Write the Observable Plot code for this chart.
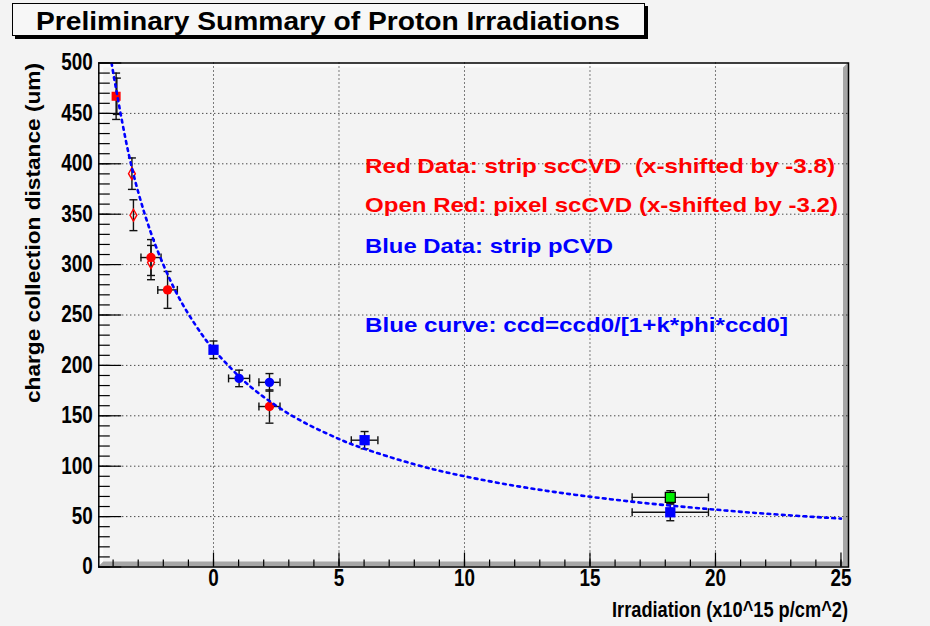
<!DOCTYPE html>
<html><head><meta charset="utf-8">
<script src="https://cdn.jsdelivr.net/npm/d3@7"></script>
<script src="https://cdn.jsdelivr.net/npm/@observablehq/plot@0.6"></script>
<style>
html,body{margin:0;padding:0;background:#f3f3f3;}
#chart{position:relative;width:930px;height:626px;overflow:hidden;}
</style></head>
<body><div id="chart"></div>
<script>
// ---------- data ----------
// Red filled: strip scCVD (x-shifted by -3.8)
const redStripX  = [-3.88, -2.49, -1.83, 2.23];
const redStripY  = [467, 307, 274.9, 159.2];
const redStripEX = [0, 0.40, 0.39, 0.42];
const redStripEY = [23, 17.8, 18.3, 16.5];
const redStripShape = ["square", "circle", "circle", "circle"];
// Open red: pixel scCVD (x-shifted by -3.2)
const redPixelX  = [-3.25, -3.19, -2.49];
const redPixelY  = [390.2, 349, 302];
const redPixelEX = [0, 0, 0];
const redPixelEY = [15.6, 15.3, 17];
// extra (second) error bar under the first red square
const extraX  = [-3.85];
const extraY  = [467];
const extraEY = [18];
// Blue: strip pCVD
const blueSqX  = [0, 6.02, 18.2];
const blueSqY  = [215.5, 125.8, 54.3];
const blueSqEX = [0, 0.53, 1.52];
const blueSqEY = [8.7, 8.6, 8.4];
const blueCircX  = [1.02, 2.23];
const blueCircY  = [187.1, 183.2];
const blueCircEX = [0.42, 0.42];
const blueCircEY = [8.2, 8.7];
// Green point
const greenX  = [18.2];
const greenY  = [69.1];
const greenEX = [1.52];
const greenEY = [6.6];
// Blue fit curve
const curveX = [-4.1, -4, -3.5, -3, -2.5, -2, -1.5, -1, -0.5, 0, 1, 2, 3, 4, 5, 6, 8, 10, 12, 14, 16, 18, 20, 22, 25];
const curveY = [507, 491, 424, 372, 332, 300, 273, 251, 232, 216, 189.5, 168.7, 152, 138.5, 127, 117.4, 101.9, 90, 80.6, 73, 66.7, 61.4, 56.9, 52.9, 48];
// axes
const xMajor = [0, 5, 10, 15, 20, 25];
const xTickLabels = ["0", "5", "10", "15", "20", "25"];
const xMinor = d3.range(-4, 26, 1);
const xGrid = [0, 5, 10, 15, 20];
const yMajor = [0, 50, 100, 150, 200, 250, 300, 350, 400, 450, 500];
const yTickLabels = ["0", "50", "100", "150", "200", "250", "300", "350", "400", "450", "500"];
const yMinor = d3.range(0, 501, 10);
const yGrid = [50, 100, 150, 200, 250, 300, 350, 400, 450];
const titleText = "Preliminary Summary of Proton Irradiations";
const xTitle = "Irradiation (x10^15 p/cm^2)";
const yTitle = "charge collection distance (um)";
const legendLines = [
  {text: "Red Data: strip scCVD  (x-shifted by -3.8)", color: "#ff0000"},
  {text: "Open Red: pixel scCVD (x-shifted by -3.2)", color: "#ff0000"},
  {text: "Blue Data: strip pCVD", color: "#0000ff"},
  {text: "Blue curve: ccd=ccd0/[1+k*phi*ccd0]", color: "#0000ff"}
];

// ---------- build ----------
const W = 930, H = 626;
const mL = 98.3, mR = 82, mT = 62.5, mB = 59.5;
const fw = W - mL - mR, fh = H - mT - mB;
const FONT = "'Liberation Sans', Arial, Helvetica, sans-serif";

const rows = (xs, ys, exs, eys) => xs.map((x, i) => ({x, y: ys[i], ex: exs ? exs[i] : 0, ey: eys ? eys[i] : 0}));
const redStrip = rows(redStripX, redStripY, redStripEX, redStripEY).map((d, i) => ({...d, shape: redStripShape[i]}));
const redPixel = rows(redPixelX, redPixelY, redPixelEX, redPixelEY);
const extra = rows(extraX, extraY, null, extraEY);
const blueSq = rows(blueSqX, blueSqY, blueSqEX, blueSqEY);
const blueCirc = rows(blueCircX, blueCircY, blueCircEX, blueCircEY);
const green = rows(greenX, greenY, greenEX, greenEY);
const curve = curveX.map((x, i) => ({x, y: curveY[i]}));

const allErr = [...redStrip, ...redPixel, ...extra, ...blueSq, ...blueCirc, ...green];
const vErr = allErr.filter(d => d.ey > 0);
const hErr = allErr.filter(d => d.ex > 0);
const capsV = vErr.flatMap(d => [{x: d.x, y: d.y - d.ey}, {x: d.x, y: d.y + d.ey}]);
const capsH = hErr.flatMap(d => [{x: d.x - d.ex, y: d.y}, {x: d.x + d.ex, y: d.y}]);

const hline = {draw(c, s) { const r = Math.sqrt(s / Math.PI); c.moveTo(-r, 0); c.lineTo(r, 0); }};
const vline = {draw(c, s) { const r = Math.sqrt(s / Math.PI); c.moveTo(0, -r); c.lineTo(0, r); }};

function bevel(index, scales, values, dim) {
  const l = dim.marginLeft, r = dim.width - dim.marginRight, t = dim.marginTop, b = dim.height - dim.marginBottom, k = 5;
  const g = d3.create("svg:g");
  g.append("polygon").attr("points", `${l},${t} ${r},${t} ${r-k},${t+k} ${l+k},${t+k} ${l+k},${b-k} ${l},${b}`).attr("fill", "#fcfcfc");
  g.append("polygon").attr("points", `${r},${t} ${r},${b} ${l},${b} ${l+k},${b-k} ${r-k},${b-k} ${r-k},${t+k}`).attr("fill", "#a6a6a6");
  return g.node();
}

const plot = Plot.plot({
  width: W, height: H,
  marginLeft: mL, marginRight: mR, marginTop: mT, marginBottom: mB,
  x: {domain: [-4.57, 25.3], axis: null},
  y: {domain: [0, 500], axis: null},
  style: {background: "transparent", overflow: "visible", fontFamily: FONT},
  marks: [
    bevel,
    Plot.ruleX(xGrid, {x: d => d, stroke: "#000", strokeWidth: 1, strokeDasharray: "1,3"}),
    Plot.ruleY(yGrid, {y: d => d, stroke: "#000", strokeWidth: 1, strokeDasharray: "1,3"}),
    Plot.tickX(xMinor, {x: d => d, insetTop: fh - 7, stroke: "#000", strokeWidth: 1.2}),
    Plot.tickX(xMajor, {x: d => d, insetTop: fh - 14, stroke: "#000", strokeWidth: 1.2}),
    Plot.tickY(yMinor, {y: d => d, insetRight: fw - 11.5, stroke: "#000", strokeWidth: 1.2}),
    Plot.tickY(yMajor, {y: d => d, insetRight: fw - 23, stroke: "#000", strokeWidth: 1.2}),
    Plot.text(xMajor, {x: d => d, text: (d, i) => xTickLabels[i], frameAnchor: "bottom", lineAnchor: "top", dy: 3, fontSize: 23, fontWeight: "bold", fill: "#000"}),
    Plot.text(yMajor, {y: d => d, text: (d, i) => yTickLabels[i], frameAnchor: "left", textAnchor: "end", dx: -6, fontSize: 23, fontWeight: "bold", fill: "#000"}),
    // error bars
    Plot.ruleX(vErr, {x: "x", y1: d => d.y - d.ey, y2: d => d.y + d.ey, stroke: "#111", strokeWidth: 1.4}),
    Plot.ruleY(hErr, {y: "y", x1: d => d.x - d.ex, x2: d => d.x + d.ex, stroke: "#111", strokeWidth: 1.4}),
    Plot.dot(capsV, {x: "x", y: "y", symbol: hline, r: 4, stroke: "#111", strokeWidth: 1.4, fill: "none"}),
    Plot.dot(capsH, {x: "x", y: "y", symbol: vline, r: 4, stroke: "#111", strokeWidth: 1.4, fill: "none"}),
    // markers
    Plot.dot(redPixel, {x: "x", y: "y", symbol: "diamond", r: 3.6, stroke: "#ff0000", strokeWidth: 1.4, fill: "none"}),
    Plot.dot(redStrip.filter(d => d.shape === "square"), {x: "x", y: "y", symbol: "square", r: 5.1, fill: "#ff0000", stroke: "none"}),
    Plot.dot(redStrip.filter(d => d.shape === "circle"), {x: "x", y: "y", symbol: "circle", r: 4.7, fill: "#ff0000", stroke: "none"}),
    Plot.dot(blueSq, {x: "x", y: "y", symbol: "square", r: 5.8, fill: "#0000ff", stroke: "none"}),
    Plot.dot(blueCirc, {x: "x", y: "y", symbol: "circle", r: 4.7, fill: "#0000ff", stroke: "none"}),
    Plot.dot(green, {x: "x", y: "y", symbol: "square", r: 5.6, fill: "#00ee00", stroke: "#000", strokeWidth: 1.3}),
    // fit curve
    Plot.line(curve, {x: "x", y: "y", curve: "natural", stroke: "#0000ff", strokeWidth: 2.6, strokeDasharray: "2.8,4.4", clip: true}),
    Plot.frame({stroke: "#000", strokeWidth: 1.5})
  ]
});
document.getElementById("chart").appendChild(plot);

const svg = d3.select(plot);
// condense tick labels
svg.selectAll("g[aria-label='text'] text").each(function() {
  const w = this.getComputedTextLength();
  this.setAttribute("textLength", (w * 0.82).toFixed(1));
  this.setAttribute("lengthAdjust", "spacingAndGlyphs");
});

function addText(parent, str, attrs, targetW) {
  const t = parent.append("text").text(str).attr("font-family", FONT).attr("font-weight", "bold").attr("text-anchor", "start");
  for (const k in attrs) t.attr(k, attrs[k]);
  if (targetW) t.attr("textLength", targetW).attr("lengthAdjust", "spacingAndGlyphs");
  return t;
}

// title box
const tg = svg.append("g");
tg.append("rect").attr("x", 15).attr("y", 6).attr("width", 633).attr("height", 33).attr("fill", "#000");
tg.append("rect").attr("x", 12.5).attr("y", 3.5).attr("width", 632).attr("height", 32).attr("fill", "#f7f7f7").attr("stroke", "#000").attr("stroke-width", 1);
addText(tg, titleText, {x: 36, y: 30, "font-size": 26.5, fill: "#000"}, 584);

// axis titles
addText(svg, xTitle, {x: 848, y: 617, "text-anchor": "end", "font-size": 22.5, fill: "#000"}, 236);
addText(svg, yTitle, {transform: "translate(40,63) rotate(-90)", "text-anchor": "end", "font-size": 20.5, fill: "#000"}, 340);

// legend texts
const legY = [173.3, 211.7, 253.3, 331.7];
const legW = [470, 473, 248, 423];
legendLines.forEach((d, i) => addText(svg, d.text, {x: 365, y: legY[i], "font-size": 21, fill: d.color}, legW[i]));
</script>
</body></html>
